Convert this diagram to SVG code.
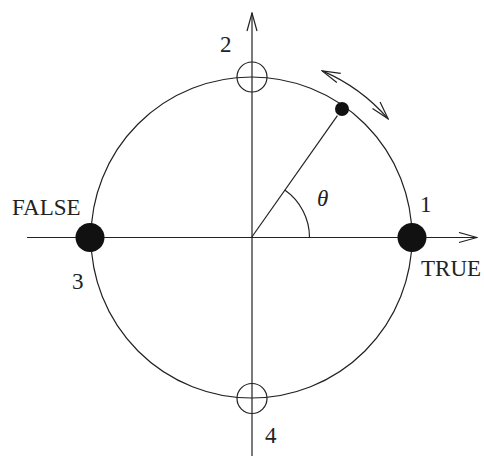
<svg xmlns="http://www.w3.org/2000/svg" width="484" height="459" viewBox="0 0 484 459">
<style>
.ln{fill:none;stroke:#222;stroke-width:1.2}
.lbl{font-family:"Liberation Serif","Times New Roman",serif;font-size:23px;fill:#222}
</style>
<defs>
<marker id="arr" viewBox="0 0 20 12" refX="19" refY="6" markerWidth="20" markerHeight="12" markerUnits="userSpaceOnUse" orient="auto-start-reverse">
<path d="M1,1 L19,6 L1,11" fill="none" stroke="#222" stroke-width="1.2"/>
</marker>
</defs>
<rect width="484" height="459" fill="#fff"/>
<g id="connectors">
<line class="ln" x1="27" y1="237.5" x2="477" y2="237.5" marker-end="url(#arr)"/>
<line class="ln" x1="252" y1="456" x2="252" y2="13" marker-end="url(#arr)"/>
<circle class="ln" cx="251.5" cy="237.5" r="160.5"/>
<line class="ln" x1="251.5" y1="237.5" x2="337.4" y2="115.6"/>
<path class="ln" d="M309.5,237.5 A58,58 0 0 0 284.8,190"/>
<path class="ln" d="M322.2,70.9 A181,181 0 0 1 388.1,118.8" marker-start="url(#arr)" marker-end="url(#arr)"/>
</g>
<g id="node-2"><circle class="ln" cx="252" cy="77" r="15"/><text class="lbl" x="220" y="52">2</text></g>
<g id="node-4"><circle class="ln" cx="252" cy="398.5" r="15"/><text class="lbl" x="265" y="443">4</text></g>
<g id="node-1"><circle cx="412" cy="237.5" r="14.5" fill="#111"/><text class="lbl" x="420" y="212">1</text><text class="lbl" x="421" y="276">TRUE</text></g>
<g id="node-3"><circle cx="90" cy="237.5" r="14.5" fill="#111"/><text class="lbl" x="12" y="215">FALSE</text><text class="lbl" x="72" y="289">3</text></g>
<g id="pointer"><circle cx="342" cy="109" r="7" fill="#111"/><text class="lbl" x="317" y="206" font-style="italic">θ</text></g>
</svg>
